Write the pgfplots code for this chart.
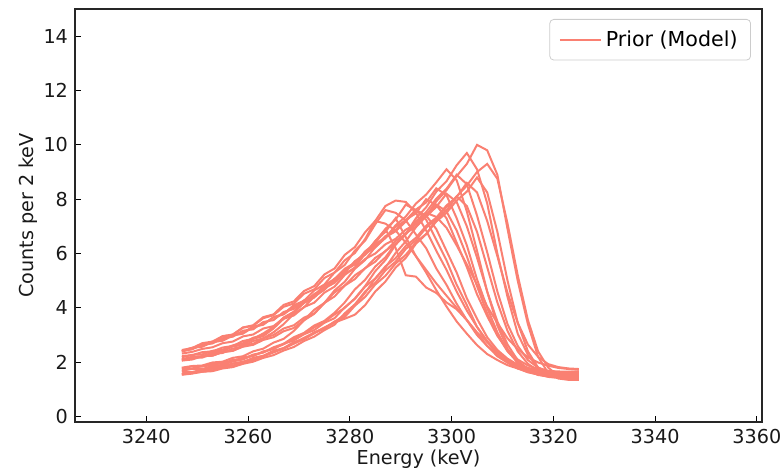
\documentclass[border=0pt]{standalone}
\usepackage{pgfplots}
\usepackage{pgfplotstable}
\pgfplotsset{compat=1.18}
\usepackage{fontspec}
\setmainfont{DejaVu Sans}
\definecolor{salmon}{HTML}{FA8072}

\pgfplotstableread{
name 3247 3249 3251 3253 3255 3257 3259 3261 3263 3265 3267 3269 3271 3273 3275 3277 3279 3281 3283 3285 3287 3289 3291 3293 3295 3297 3299 3301 3303 3305 3307 3309 3311 3313 3315 3317 3319 3321 3323 3325
c1 1.65 1.64 1.72 1.80 1.86 1.95 2.02 2.13 2.22 2.37 2.50 2.68 2.85 3.06 3.25 3.48 3.75 4.1 4.55 5.08 5.48 6.02 6.45 6.97 7.38 7.92 8.33 8.85 9.3 10.0 9.8 8.9 6.9 5.0 3.4 2.2 1.6 1.4 1.35 1.35
c2 1.77 1.85 1.84 1.94 1.95 2.09 2.12 2.28 2.36 2.52 2.66 2.86 3.04 3.28 3.48 3.76 4.00 4.35 4.80 5.35 5.76 6.32 6.72 7.30 7.70 8.28 8.66 9.25 9.7 9.1 7.85 6.0 4.4 3.05 2.27 1.8 1.62 1.54 1.5 1.5
c3 1.54 1.58 1.65 1.70 1.80 1.88 1.98 2.08 2.22 2.36 2.52 2.70 2.90 3.08 3.28 3.46 3.60 3.75 4.10 4.60 4.97 5.48 5.84 6.36 6.71 7.23 7.59 8.10 8.5 9.0 9.3 8.75 7.1 5.2 3.55 2.4 1.8 1.5 1.4 1.35
c4 2.06 2.10 2.22 2.24 2.38 2.42 2.60 2.68 2.88 3.00 3.24 3.36 3.64 3.80 4.18 4.64 4.96 5.44 5.76 6.24 6.57 7.04 7.36 7.84 8.17 8.62 9.1 8.7 7.55 6.1 4.6 3.35 2.5 1.95 1.68 1.53 1.48 1.45 1.45 1.45
c5 1.68 1.76 1.75 1.86 1.90 2.03 2.10 2.26 2.36 2.55 2.68 2.92 3.08 3.35 3.52 3.82 4.20 4.68 5.03 5.52 5.86 6.36 6.70 7.19 7.52 8.02 8.38 8.9 8.55 7.4 6.05 4.6 3.4 2.6 2.08 1.8 1.68 1.63 1.6 1.6
c6 1.75 1.77 1.86 1.88 1.99 2.03 2.18 2.22 2.40 2.48 2.68 2.80 3.03 3.18 3.45 3.62 4.02 4.33 4.78 5.08 5.53 5.83 6.28 6.58 7.02 7.32 7.77 8.08 8.6 8.25 7.2 5.9 4.55 3.45 2.65 2.2 1.93 1.82 1.77 1.75
c7 2.07 2.16 2.17 2.31 2.34 2.50 2.58 2.78 2.88 3.10 3.40 3.78 4.02 4.42 4.66 5.06 5.30 5.70 5.95 6.34 6.58 6.98 7.22 7.62 7.88 8.4 8.15 7.3 6.3 5.05 4.0 3.1 2.42 2.0 1.76 1.62 1.55 1.52 1.5 1.5
c8 2.09 2.12 2.23 2.24 2.37 2.42 2.57 2.64 2.82 2.92 3.14 3.26 3.55 3.93 4.18 4.57 4.82 5.20 5.45 5.84 6.08 6.47 6.72 7.10 7.35 7.72 8.2 7.9 7.0 5.85 4.6 3.5 2.65 2.07 1.73 1.55 1.46 1.42 1.4 1.4
c9 2.18 2.27 2.29 2.42 2.46 2.62 2.70 2.90 3.00 3.28 3.64 3.86 4.24 4.46 4.84 5.06 5.44 5.66 6.04 6.26 6.64 6.86 7.24 7.48 8.0 7.78 7.3 6.4 5.5 4.5 3.7 2.97 2.46 2.1 1.88 1.75 1.67 1.63 1.61 1.6
c10 2.45 2.52 2.70 2.76 2.96 3.02 3.27 3.34 3.62 3.73 4.04 4.16 4.52 4.68 5.10 5.30 5.75 6.02 6.53 7.2 7.75 7.95 7.9 7.5 6.85 6.1 5.4 4.6 3.9 3.3 2.75 2.37 2.06 1.86 1.72 1.63 1.57 1.54 1.52 1.5
c11 2.42 2.48 2.64 2.69 2.88 2.94 3.16 3.21 3.48 3.55 3.85 3.96 4.28 4.42 4.80 4.96 5.38 5.60 6.08 6.37 6.90 7.25 7.8 7.6 7.25 6.5 5.75 4.85 4.1 3.3 2.78 2.3 2.0 1.77 1.63 1.55 1.5 1.48 1.46 1.45
c12 2.11 2.20 2.22 2.36 2.40 2.58 2.64 2.86 2.96 3.24 3.60 3.82 4.20 4.42 4.80 5.02 5.40 5.62 6.00 6.22 6.60 6.82 7.18 7.6 7.4 6.9 6.1 5.3 4.35 3.6 2.92 2.45 2.13 1.91 1.79 1.72 1.68 1.66 1.65 1.65
c13 2.41 2.53 2.57 2.74 2.79 2.98 3.05 3.29 3.38 3.66 3.78 4.10 4.26 4.64 4.86 5.30 5.58 6.11 6.47 7.08 7.6 7.5 7.22 6.7 6.2 5.45 4.85 4.15 3.55 3.0 2.6 2.22 1.98 1.78 1.64 1.55 1.49 1.46 1.43 1.42
c14 2.32 2.38 2.49 2.55 2.70 2.76 2.95 3.02 3.24 3.33 3.60 3.72 4.03 4.19 4.56 4.78 5.21 5.49 5.99 6.45 6.9 6.2 5.2 5.15 4.75 4.55 4.2 3.95 3.55 3.05 2.6 2.3 2.05 1.9 1.7 1.58 1.5 1.48 1.47 1.47
c15 2.40 2.53 2.60 2.76 2.82 3.01 3.09 3.31 3.40 3.65 3.76 4.04 4.19 4.51 4.70 5.07 5.29 5.72 5.98 6.46 6.80 7.3 6.6 5.9 5.4 4.9 4.45 4.0 3.55 3.1 2.75 2.4 2.1 1.85 1.7 1.6 1.55 1.52 1.5 1.5
c16 1.80 1.86 1.88 1.99 2.02 2.16 2.22 2.40 2.50 2.72 2.86 3.15 3.54 3.78 4.18 4.42 4.82 5.06 5.46 5.70 6.10 6.35 6.75 6.99 7.38 7.8 7.55 6.85 5.9 4.8 3.8 3.0 2.4 2.0 1.78 1.66 1.59 1.56 1.55 1.55
c17 1.55 1.60 1.65 1.67 1.77 1.82 1.94 2.02 2.16 2.26 2.43 2.56 2.78 2.94 3.18 3.38 3.80 4.13 4.60 4.92 5.38 5.70 6.17 6.49 6.95 7.27 7.72 8.1 7.75 6.8 5.5 4.2 3.15 2.4 1.94 1.69 1.57 1.53 1.5 1.5
c18 2.23 2.26 2.37 2.40 2.54 2.60 2.78 2.86 3.06 3.30 3.64 3.84 4.18 4.38 4.72 4.92 5.26 5.46 5.80 6.00 6.34 6.54 6.88 7.08 7.5 7.35 6.95 6.3 5.6 4.85 4.05 3.45 2.88 2.48 2.18 1.99 1.87 1.79 1.75 1.72
c19 1.56 1.63 1.66 1.76 1.80 1.95 2.00 2.16 2.24 2.42 2.52 2.74 2.86 3.10 3.24 3.50 3.66 4.08 4.40 4.86 5.18 5.63 5.95 6.41 6.72 7.18 7.50 7.95 8.28 8.8 8.25 6.8 5.0 3.45 2.4 1.8 1.55 1.44 1.41 1.4
c20 2.40 2.48 2.66 2.72 2.95 3.01 3.28 3.36 3.66 3.76 4.11 4.24 4.62 4.80 5.23 5.45 5.95 6.24 6.78 7.2 7.1 6.85 6.4 5.9 5.3 4.65 4.05 3.5 3.05 2.63 2.3 2.08 1.89 1.77 1.69 1.63 1.6 1.58 1.56 1.55
}\raw
\pgfplotstabletranspose[colnames from=name,input colnames to=x]\spectra\raw

\begin{document}
\begin{tikzpicture}
\path[use as bounding box] (-37.5pt,-25pt) rectangle (354pt,211pt);
\begin{axis}[
  at={(0pt,0pt)}, anchor=south west,
  scale only axis, width=343.5pt, height=206.5pt,
  xmin=3226, xmax=3361, ymin=-0.2, ymax=15,
  xtick={3240,3260,3280,3300,3320,3340,3360},
  ytick={0,2,4,6,8,10,12,14},
  tick align=inside, xtick pos=bottom, ytick pos=left,
  major tick length=3pt,
  tick style={black, line width=0.5pt},
  axis line style={line width=0.6pt, black!85},
  /pgf/number format/assume math mode=true,
  /pgf/number format/1000 sep={},
  tick label style={font=\fontsize{9.6}{11}\selectfont, black!90},
  label style={font=\fontsize{9.6}{11}\selectfont, black!90},
  xlabel={Energy (keV)}, ylabel={Counts per 2 keV},
  xlabel shift=-3.5pt, ylabel shift=-4pt,
  legend style={at={(1,1)}, anchor=north east, xshift=-5.5pt, yshift=-5pt,
    draw=black!20, rounded corners=2pt, fill=white,
    font=\fontsize{10.3}{12}\selectfont, inner xsep=4.5pt, inner ysep=3.5pt},
  legend cell align=left,
  legend image code/.code={\draw[#1] (0pt,0pt) -- (20.5pt,0pt);},
]
\addplot[salmon, line width=1pt, no marks] table[x=x, y=c1] {\spectra};
\addlegendentry{Prior (Model)}
\addplot[salmon, line width=1pt, no marks, forget plot] table[x=x, y=c2] {\spectra};
\addplot[salmon, line width=1pt, no marks, forget plot] table[x=x, y=c3] {\spectra};
\addplot[salmon, line width=1pt, no marks, forget plot] table[x=x, y=c4] {\spectra};
\addplot[salmon, line width=1pt, no marks, forget plot] table[x=x, y=c5] {\spectra};
\addplot[salmon, line width=1pt, no marks, forget plot] table[x=x, y=c6] {\spectra};
\addplot[salmon, line width=1pt, no marks, forget plot] table[x=x, y=c7] {\spectra};
\addplot[salmon, line width=1pt, no marks, forget plot] table[x=x, y=c8] {\spectra};
\addplot[salmon, line width=1pt, no marks, forget plot] table[x=x, y=c9] {\spectra};
\addplot[salmon, line width=1pt, no marks, forget plot] table[x=x, y=c10] {\spectra};
\addplot[salmon, line width=1pt, no marks, forget plot] table[x=x, y=c11] {\spectra};
\addplot[salmon, line width=1pt, no marks, forget plot] table[x=x, y=c12] {\spectra};
\addplot[salmon, line width=1pt, no marks, forget plot] table[x=x, y=c13] {\spectra};
\addplot[salmon, line width=1pt, no marks, forget plot] table[x=x, y=c14] {\spectra};
\addplot[salmon, line width=1pt, no marks, forget plot] table[x=x, y=c15] {\spectra};
\addplot[salmon, line width=1pt, no marks, forget plot] table[x=x, y=c16] {\spectra};
\addplot[salmon, line width=1pt, no marks, forget plot] table[x=x, y=c17] {\spectra};
\addplot[salmon, line width=1pt, no marks, forget plot] table[x=x, y=c18] {\spectra};
\addplot[salmon, line width=1pt, no marks, forget plot] table[x=x, y=c19] {\spectra};
\addplot[salmon, line width=1pt, no marks, forget plot] table[x=x, y=c20] {\spectra};
\end{axis}
\end{tikzpicture}
\end{document}
